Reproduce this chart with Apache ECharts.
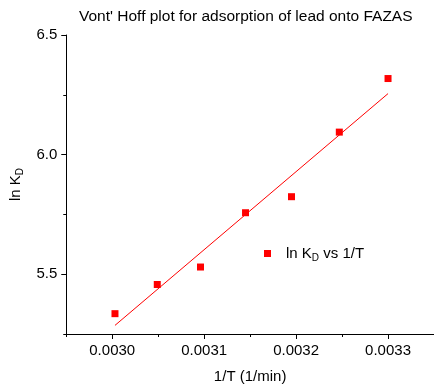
<!DOCTYPE html>
<html>
<head>
<meta charset="utf-8">
<script src="https://cdn.jsdelivr.net/npm/echarts@6/dist/echarts.min.js"></script>
<style>html,body{margin:0;padding:0;background:#fff;}#c{width:434px;height:390px;}</style>
</head>
<body>
<div id="c"></div>
<script>
// Data
const invT = [0.003003, 0.003049, 0.003096, 0.003145, 0.003195, 0.003247, 0.003300];
const lnKD = [5.335, 5.457, 5.530, 5.757, 5.824, 6.094, 6.318];
const fitX = [0.003003, 0.003300];
const fitY = [5.286, 6.255];
const xMajorTicks = [0.0030, 0.0031, 0.0032, 0.0033];
const xMinorTicks = [0.00295, 0.00305, 0.00315, 0.00325, 0.00335];
const yMajorTicks = [5.5, 6.0, 6.5];
const yMinorTicks = [5.25, 5.75, 6.25];

const FONT = 'Liberation Sans, Arial, sans-serif';
const RED = '#ff0000';
const X_MIN = 0.00295, X_MAX = 0.00335, Y_MIN = 5.25, Y_MAX = 6.5;

const chart = echarts.init(document.getElementById('c'), null, {renderer: 'canvas'});

function baseX(extra) {
  return Object.assign({
    type: 'value', min: X_MIN, max: X_MAX, position: 'bottom',
    splitLine: {show: false},
    axisLine: {show: true, onZero: false, lineStyle: {color: '#000', width: 1}},
  }, extra);
}
function baseY(extra) {
  return Object.assign({
    type: 'value', min: Y_MIN, max: Y_MAX, position: 'left',
    splitLine: {show: false},
    axisLine: {show: true, onZero: false, lineStyle: {color: '#000', width: 1}},
  }, extra);
}

const option = {
  animation: false,
  backgroundColor: '#fff',
  title: {
    text: "Vont' Hoff plot for adsorption of lead onto FAZAS",
    left: 79, top: 9, padding: 0,
    textStyle: {fontFamily: FONT, fontSize: 15.5, fontWeight: 'normal', color: '#000'}
  },
  legend: {
    data: ['scatter'],
    left: 264, top: 246, padding: 0,
    icon: 'rect', itemWidth: 7, itemHeight: 7,
    itemStyle: {color: RED, opacity: 1},
    formatter: () => '{a|ln K}{b|D}{a| vs 1/T}',
    textStyle: {
      fontFamily: FONT, color: '#000',
      padding: [0, 0, 0, 10],
      rich: {
        a: {fontFamily: FONT, fontSize: 15, lineHeight: 20, color: '#000'},
        b: {fontFamily: FONT, fontSize: 10, lineHeight: 10, verticalAlign: 'bottom', color: '#000'}
      }
    }
  },
  grid: {left: 63, top: 35, width: 371, height: 299, containLabel: false},
  xAxis: [
    baseX({
      name: '1/T (1/min)', nameLocation: 'middle', nameGap: 35,
      nameTextStyle: {fontFamily: FONT, fontSize: 15, color: '#000'},
      axisTick: {show: true, length: 5, inside: false, customValues: xMajorTicks, lineStyle: {color: '#000'}},
      axisLabel: {show: true, margin: 9, customValues: xMajorTicks, fontFamily: FONT, fontSize: 15, color: '#000',
        formatter: v => v.toFixed(4)}
    }),
    baseX({
      axisLine: {show: false},
      axisTick: {show: true, length: 3, inside: false, customValues: xMinorTicks, lineStyle: {color: '#000'}},
      axisLabel: {show: false}
    })
  ],
  yAxis: [
    baseY({
      name: '{a|ln K}{b|D}', nameLocation: 'middle', nameGap: 38, nameRotate: 90,
      nameTextStyle: {
        fontFamily: FONT, color: '#000',
        rich: {
          a: {fontFamily: FONT, fontSize: 15, lineHeight: 20, color: '#000'},
          b: {fontFamily: FONT, fontSize: 10, lineHeight: 10, verticalAlign: 'bottom', color: '#000'}
        }
      },
      axisTick: {show: true, length: 5, inside: false, customValues: yMajorTicks, lineStyle: {color: '#000'}},
      axisLabel: {show: true, margin: 9, customValues: yMajorTicks, fontFamily: FONT, fontSize: 15, color: '#000',
        formatter: v => v.toFixed(1)}
    }),
    baseY({
      axisLine: {show: false},
      axisTick: {show: true, length: 3, inside: false, customValues: yMinorTicks, lineStyle: {color: '#000'}},
      axisLabel: {show: false}
    })
  ],
  series: [
    {
      name: 'fit', type: 'line', xAxisIndex: 0, yAxisIndex: 0,
      data: fitX.map((x, i) => [x, fitY[i]]),
      symbol: 'none', lineStyle: {color: RED, width: 1}, itemStyle: {color: RED},
      silent: true
    },
    {
      name: 'scatter', type: 'scatter', xAxisIndex: 0, yAxisIndex: 0,
      data: invT.map((x, i) => [x, lnKD[i]]),
      symbol: 'rect', symbolSize: 7, itemStyle: {color: RED, opacity: 1}
    }
  ]
};
chart.setOption(option);
</script>
</body>
</html>
